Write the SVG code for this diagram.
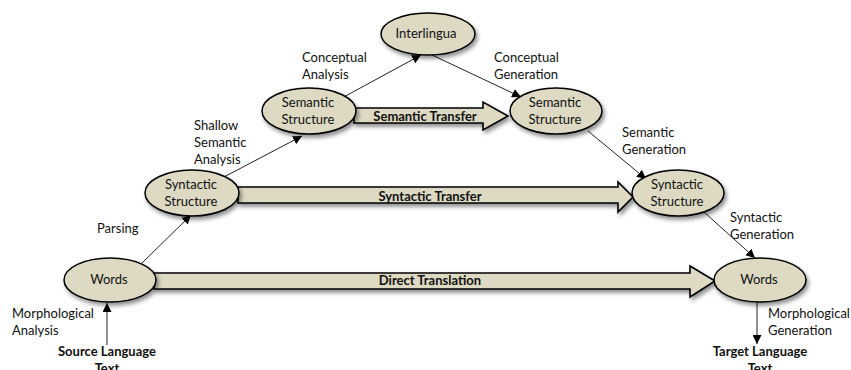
<svg xmlns="http://www.w3.org/2000/svg" width="851" height="370" viewBox="0 0 851 370">
<defs>
<filter id="sh" x="-20%" y="-20%" width="150%" height="160%">
<feDropShadow dx="2" dy="3" stdDeviation="2" flood-color="#000" flood-opacity="0.45"/>
</filter>
<marker id="ah" viewBox="0 0 10 10" refX="10" refY="5" markerWidth="9" markerHeight="9" markerUnits="userSpaceOnUse" orient="auto">
<path d="M0,0 L10,5 L0,10 z" fill="#000"/>
</marker>
<style>
.node ellipse{fill:#ddd9c3;stroke:#000;stroke-width:1.5;filter:url(#sh)}
.big{fill:#ddd9c3;stroke:#000;stroke-width:1.6;filter:url(#sh)}
text{font-family:Lato,"Open Sans","Liberation Sans",sans-serif;font-size:13px;fill:#111}
.c{text-anchor:middle}
.b{font-weight:bold}
.ln{stroke:#222;stroke-width:1;fill:none;marker-end:url(#ah)}
</style>
</defs>
<rect width="851" height="370" fill="#fff"/>

<g id="connectors">
<path class="big" d="M154,273 L690,273 L690,266 L715,281 L690,297 L690,289 L154,289 z"/>
<path class="big" d="M238,187 L618,187 L618,182 L633,197 L618,212 L618,203 L238,203 z"/>
<path class="big" d="M354,108 L483,108 L483,102 L508,116 L483,130 L483,123 L354,123 z"/>
<line class="ln" x1="142" y1="263" x2="191" y2="215"/>
<line class="ln" x1="222" y1="178" x2="302" y2="136"/>
<line class="ln" x1="340" y1="99" x2="421" y2="55"/>
<line class="ln" x1="432" y1="55" x2="521" y2="97"/>
<line class="ln" x1="588" y1="131" x2="646" y2="179"/>
<line class="ln" x1="704" y1="212" x2="755" y2="258"/>
<line class="ln" x1="107" y1="345" x2="107" y2="303"/>
<line class="ln" x1="757" y1="302" x2="757" y2="344"/>
<text class="c b" x="425" y="121">Semantic Transfer</text>
<text class="c b" x="430" y="201">Syntactic Transfer</text>
<text class="c b" x="430" y="285">Direct Translation</text>
</g>

<g id="interlingua" class="node"><ellipse cx="428" cy="34" rx="47" ry="21"/><text class="c" x="426" y="38">Interlingua</text></g>
<g id="semantic-left" class="node"><ellipse cx="309" cy="111" rx="47" ry="23"/><text class="c" x="308" y="107">Semantic</text><text class="c" x="308" y="124">Structure</text></g>
<g id="semantic-right" class="node"><ellipse cx="556" cy="111" rx="46" ry="23"/><text class="c" x="555" y="107">Semantic</text><text class="c" x="555" y="124">Structure</text></g>
<g id="syntactic-left" class="node"><ellipse cx="192" cy="193" rx="47" ry="23"/><text class="c" x="191" y="189">Syntactic</text><text class="c" x="191" y="206">Structure</text></g>
<g id="syntactic-right" class="node"><ellipse cx="678" cy="193" rx="46" ry="23"/><text class="c" x="677" y="189">Syntactic</text><text class="c" x="677" y="206">Structure</text></g>
<g id="words-left" class="node"><ellipse cx="110" cy="280" rx="46" ry="22"/><text class="c" x="109" y="284">Words</text></g>
<g id="words-right" class="node"><ellipse cx="760" cy="280" rx="46" ry="22"/><text class="c" x="759" y="284">Words</text></g>

<g id="labels">
<text x="302" y="62">Conceptual</text><text x="302" y="79">Analysis</text>
<text x="494" y="62">Conceptual</text><text x="494" y="79">Generation</text>
<text x="194" y="130">Shallow</text><text x="194" y="147">Semantic</text><text x="194" y="164">Analysis</text>
<text x="622" y="137">Semantic</text><text x="622" y="154">Generation</text>
<text x="97" y="233">Parsing</text>
<text x="730" y="222">Syntactic</text><text x="730" y="239">Generation</text>
<text x="12" y="318">Morphological</text><text x="12" y="335">Analysis</text>
<text x="768" y="318">Morphological</text><text x="768" y="335">Generation</text>
<text class="c b" x="107" y="356">Source Language</text><text class="c b" x="107" y="373">Text</text>
<text class="c b" x="760" y="356">Target Language</text><text class="c b" x="760" y="373">Text</text>
</g>
</svg>
